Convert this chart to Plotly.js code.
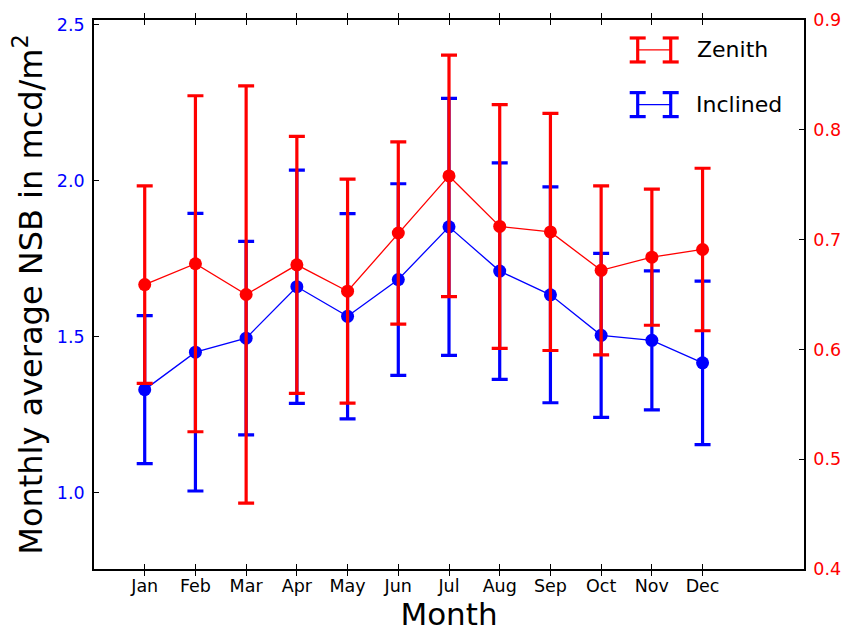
<!DOCTYPE html>
<html>
<head>
<meta charset="utf-8">
<script src="https://cdn.plot.ly/plotly-3.0.1.min.js"></script>
<style>html,body{margin:0;padding:0;background:#fff;}#chart{width:848px;height:635px;}</style>
</head>
<body>
<div id="chart"></div>
<script>
// ---- data ----
var months = ["Jan","Feb","Mar","Apr","May","Jun","Jul","Aug","Sep","Oct","Nov","Dec"];
var monthIndex = [1,2,3,4,5,6,7,8,9,10,11,12];
// Inclined (left axis)
var inclinedMean = [1.331,1.451,1.496,1.661,1.566,1.684,1.853,1.711,1.635,1.505,1.489,1.417];
var inclinedErr  = [0.237,0.445,0.310,0.374,0.329,0.307,0.412,0.347,0.346,0.263,0.223,0.262];
// Zenith (right axis)
var zenithMean = [0.659,0.678,0.650,0.677,0.653,0.706,0.758,0.712,0.707,0.672,0.684,0.691];
var zenithErr  = [0.090,0.153,0.190,0.117,0.102,0.083,0.110,0.111,0.108,0.077,0.062,0.074];
var leftTicks = [1.0,1.5,2.0,2.5];
var rightTicks = [0.4,0.5,0.6,0.7,0.8,0.9];

// ---- layout helpers (pixel -> paper) ----
var PL=94, PR=804, PT=20, PB=569.5;
function px(x){return (x-PL)/(PR-PL);}
function py(y){return (PB-y)/(PB-PT);}

var RED='#ff0000', BLUE='#0000ff';
var font='"DejaVu Sans", Verdana, sans-serif';

var traces = [
  {x: monthIndex, y: inclinedMean, type:'scatter', mode:'lines+markers', name:'Inclined',
   yaxis:'y', line:{color:BLUE,width:1.3}, marker:{color:BLUE,size:13},
   error_y:{type:'data', array:inclinedErr, visible:true, color:BLUE, thickness:3.2, width:8},
   showlegend:false},
  {x: monthIndex, y: zenithMean, type:'scatter', mode:'lines+markers', name:'Zenith',
   yaxis:'y2', line:{color:RED,width:1.3}, marker:{color:RED,size:13},
   error_y:{type:'data', array:zenithErr, visible:true, color:RED, thickness:3.2, width:8},
   showlegend:false}
];

function legendGlyph(color, yc){
  var s=[], top=yc-12, bot=yc+12;
  var bars=[637.7,670.7];
  bars.forEach(function(bx){
    s.push({type:'line',xref:'paper',yref:'paper',x0:px(bx),x1:px(bx),y0:py(top),y1:py(bot),line:{color:color,width:3.2}});
    s.push({type:'line',xref:'paper',yref:'paper',x0:px(bx-8),x1:px(bx+8),y0:py(top),y1:py(top),line:{color:color,width:3.2}});
    s.push({type:'line',xref:'paper',yref:'paper',x0:px(bx-8),x1:px(bx+8),y0:py(bot),y1:py(bot),line:{color:color,width:3.2}});
  });
  s.push({type:'line',xref:'paper',yref:'paper',x0:px(bars[0]),x1:px(bars[1]),y0:py(yc),y1:py(yc),line:{color:color,width:1.3}});
  return s;
}
var shapes = legendGlyph(RED,50).concat(legendGlyph(BLUE,104.7));

var layout = {
  width:848, height:635,
  margin:{l:PL, r:848-PR, t:PT, b:635-PB},
  paper_bgcolor:'#fff', plot_bgcolor:'#fff',
  font:{family:font, color:'#000', size:17.5},
  showlegend:false,
  xaxis:{range:[0,14], tickvals:monthIndex, ticktext:months, ticks:'inside', ticklen:5,
         tickcolor:'#000', showline:true, linecolor:'#000', linewidth:1.8, mirror:'allticks',
         showgrid:false, zeroline:false, tickfont:{size:17.5, family:font},
         title:{text:'Month', font:{size:31, family:font}, standoff:8}},
  yaxis:{range:[0.756,2.516], tickvals:leftTicks, tickformat:'.1f', ticks:'inside', ticklen:5,
         tickcolor:'#000', showline:true, linecolor:'#000', linewidth:1.8, mirror:false,
         showgrid:false, zeroline:false, tickfont:{size:17.5, color:BLUE, family:font},
         ticklabelstandoff:4,
         title:{text:'Monthly average NSB in mcd/m<sup>2</sup>', font:{size:32, family:font}, standoff:5}},
  yaxis2:{range:[0.4,0.9], tickvals:rightTicks, tickformat:'.1f', overlaying:'y', side:'right',
          ticks:'inside', ticklen:5, tickcolor:'#000', showline:true, linecolor:'#000', linewidth:1.8,
          showgrid:false, zeroline:false, tickfont:{size:17.5, color:RED, family:font}, ticklabelstandoff:4},
  shapes: shapes,
  annotations:[
    {xref:'paper',yref:'paper',x:px(695),y:py(50),xanchor:'left',yanchor:'middle',text:'Zenith',showarrow:false,font:{size:22,family:font,color:'#000'}},
    {xref:'paper',yref:'paper',x:px(694),y:py(104.7),xanchor:'left',yanchor:'middle',text:'Inclined',showarrow:false,font:{size:22,family:font,color:'#000'}}
  ]
};

Plotly.newPlot('chart', traces, layout, {staticPlot:true, displayModeBar:false});
</script>
</body>
</html>
